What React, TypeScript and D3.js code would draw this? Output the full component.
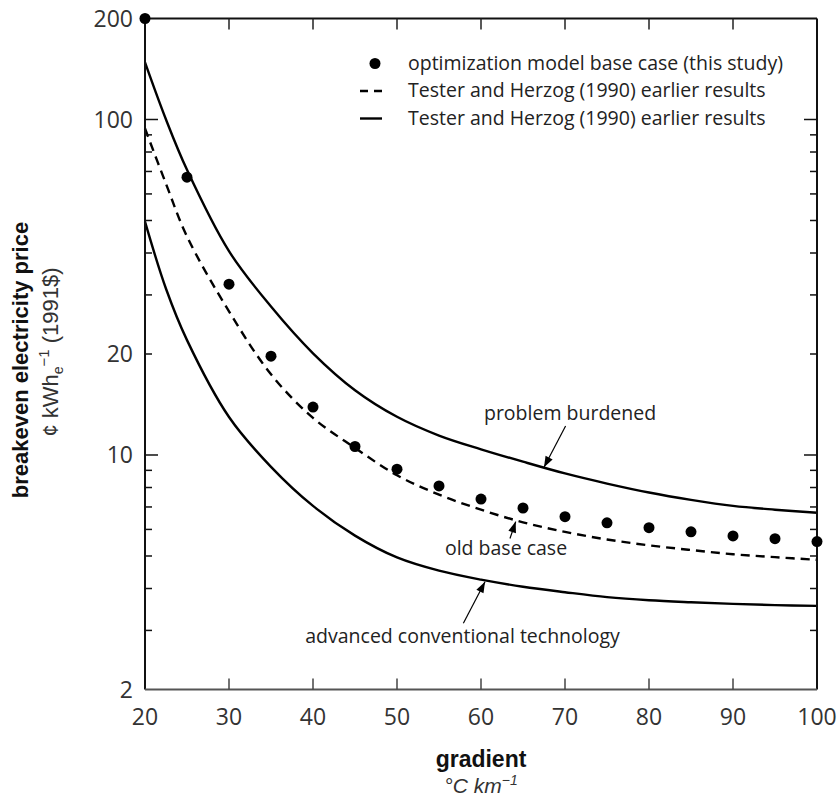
import React from "react";
import * as d3 from "d3";

// optimization model base case (this study), one value every 5 °C/km
const gradientPoints = [20, 25, 30, 35, 40, 45, 50, 55, 60, 65, 70, 75, 80, 85, 90, 95, 100];
const optimizationCase = [200, 67.3, 32.3, 19.7, 13.9, 10.6, 9.07, 8.09, 7.39, 6.95, 6.55, 6.28, 6.07, 5.9, 5.74, 5.63, 5.52];

// Tester and Herzog (1990) curves
const curveGradient = [20, 22.5, 25, 30, 35, 40, 45, 50, 55, 60, 65, 70, 75, 80, 85, 90, 95, 100];
const problemBurdened = [148, 100, 70.8, 40.5, 27.7, 20.1, 15.6, 13.0, 11.43, 10.4, 9.55, 8.81, 8.22, 7.73, 7.35, 7.05, 6.87, 6.73];
const oldBaseCase = [94, 64.3, 44.8, 26.8, 17.4, 12.9, 10.5, 8.7, 7.62, 6.87, 6.3, 5.9, 5.6, 5.38, 5.21, 5.06, 4.96, 4.87];
const advancedTech = [49.6, 31.3, 22.0, 12.98, 9.22, 7.05, 5.75, 4.95, 4.52, 4.25, 4.05, 3.9, 3.77, 3.69, 3.64, 3.6, 3.57, 3.55];

const xTicks = [20, 30, 40, 50, 60, 70, 80, 90, 100];
const yTickLabels = [2, 10, 20, 100, 200];
const yMajorTicks = [10, 100];
const yMinorTicks = [3, 4, 5, 6, 7, 8, 9, 20, 30, 40, 50, 60, 70, 80, 90];

const legendLabels = [
  "optimization model base case (this study)",
  "Tester and Herzog (1990) earlier results",
  "Tester and Herzog (1990) earlier results",
];

// annotation: label position and arrow (tail -> tip) in data units
const annotations = [
  { label: "problem burdened", tx: 70.6, ty: 12.7, from: [70.07, 12.2], to: [67.5, 9.19] },
  { label: "old base case", tx: 62.98, ty: 5.04, from: [63.45, 5.64], to: [64.13, 6.33] },
  { label: "advanced conventional technology", tx: 57.8, ty: 2.75, from: [57.9, 3.15], to: [60.48, 4.19] },
];

const W = 838;
const H = 796;
const left = 145;
const right = 817;
const top = 18.5;
const bottom = 689.5;
const sans = "'Open Sans', sans-serif";
const arial = "'Liberation Sans', Arial, sans-serif";

const App = () => {
  const x = d3.scaleLinear().domain([20, 100]).range([left, right]);
  const y = d3.scaleLog().domain([2, 200]).range([bottom, top]);

  const line = d3
    .line<number>()
    .x((d, i) => x(curveGradient[i]))
    .y((d) => y(d))
    .curve(d3.curveCatmullRom.alpha(0.5));

  const arrowHead = (x1: number, y1: number, x2: number, y2: number) => {
    const a = Math.atan2(y2 - y1, x2 - x1);
    const len = 11;
    const wid = 4;
    const bx = x2 - len * Math.cos(a);
    const by = y2 - len * Math.sin(a);
    const px = -Math.sin(a) * wid;
    const py = Math.cos(a) * wid;
    return `M${x2},${y2}L${bx + px},${by + py}L${bx - px},${by - py}Z`;
  };

  return (
    <svg
      width={W}
      height={H}
      style={{ position: "absolute", left: 0, top: 0, background: "#fff" }}
    >
      {/* curves */}
      <path d={line(problemBurdened) || ""} fill="none" stroke="#000" strokeWidth={2.4} />
      <path d={line(advancedTech) || ""} fill="none" stroke="#000" strokeWidth={2.4} />
      <path
        d={line(oldBaseCase) || ""}
        fill="none"
        stroke="#000"
        strokeWidth={2.4}
        strokeDasharray="9,6"
      />

      {/* frame */}
      <line x1={left} x2={right} y1={top} y2={top} stroke="#111" strokeWidth={2} />
      <line x1={right} x2={right} y1={top} y2={bottom} stroke="#111" strokeWidth={2} />
      <line x1={left} x2={left} y1={top} y2={bottom} stroke="#111" strokeWidth={2} />
      <line x1={left} x2={right} y1={bottom} y2={bottom} stroke="#555" strokeWidth={2} />

      {/* x ticks top and bottom */}
      {xTicks.slice(1, -1).map((t) => (
        <g key={"xt" + t}>
          <line x1={x(t)} x2={x(t)} y1={bottom} y2={bottom - 11} stroke="#444" strokeWidth={1.5} />
          <line x1={x(t)} x2={x(t)} y1={top} y2={top + 11} stroke="#222" strokeWidth={1.5} />
        </g>
      ))}
      {xTicks.map((t) => (
        <text
          key={"xl" + t}
          x={x(t)}
          y={725}
          textAnchor="middle"
          fontFamily={sans}
          fontSize={23}
          fill="#333"
        >
          {t}
        </text>
      ))}

      {/* y ticks left and right */}
      {yMajorTicks.map((t) => (
        <g key={"ym" + t}>
          <line x1={left} x2={left + 13} y1={y(t)} y2={y(t)} stroke="#111" strokeWidth={1.5} />
          <line x1={right} x2={right - 13} y1={y(t)} y2={y(t)} stroke="#111" strokeWidth={1.5} />
        </g>
      ))}
      {yMinorTicks.map((t) => (
        <g key={"yn" + t}>
          <line x1={left} x2={left + 7} y1={y(t)} y2={y(t)} stroke="#111" strokeWidth={1.5} />
          <line x1={right} x2={right - 7} y1={y(t)} y2={y(t)} stroke="#111" strokeWidth={1.5} />
        </g>
      ))}
      {yTickLabels.map((t) => (
        <text
          key={"yl" + t}
          x={left - 12}
          y={y(t)}
          dy="0.36em"
          textAnchor="end"
          fontFamily={sans}
          fontSize={23}
          fill="#333"
        >
          {t}
        </text>
      ))}

      {/* optimization model dots */}
      {optimizationCase.map((v, i) => (
        <circle key={"pt" + i} cx={x(gradientPoints[i])} cy={y(v)} r={5.5} fill="#000" />
      ))}

      {/* annotations */}
      {annotations.map((a) => {
        const x1 = x(a.from[0]);
        const y1 = y(a.from[1]);
        const x2 = x(a.to[0]);
        const y2 = y(a.to[1]);
        return (
          <g key={a.label}>
            <line x1={x1} y1={y1} x2={x2} y2={y2} stroke="#000" strokeWidth={1.2} />
            <path d={arrowHead(x1, y1, x2, y2)} fill="#000" />
            <text
              x={x(a.tx)}
              y={y(a.ty)}
              textAnchor="middle"
              fontFamily={sans}
              fontSize={19.5}
              fill="#222"
            >
              {a.label}
            </text>
          </g>
        );
      })}

      {/* legend */}
      <g fontFamily={sans} fontSize={19.5} fill="#222">
        <circle cx={375} cy={63.5} r={5.5} fill="#000" />
        <line x1={360} x2={382} y1={91} y2={91} stroke="#000" strokeWidth={2.4} strokeDasharray="8,6" />
        <line x1={360} x2={382} y1={118.5} y2={118.5} stroke="#000" strokeWidth={2.4} />
        {legendLabels.map((l, i) => (
          <text key={"lg" + i} x={408} y={69.5 + i * 27.5}>
            {l}
          </text>
        ))}
      </g>

      {/* axis titles */}
      <text
        x={(left + right) / 2}
        y={767}
        textAnchor="middle"
        fontFamily={arial}
        fontWeight="bold"
        fontSize={23}
        fill="#111"
      >
        gradient
      </text>
      <text
        x={(left + right) / 2}
        y={793}
        textAnchor="middle"
        fontFamily={arial}
        fontStyle="italic"
        fontSize={21}
        fill="#333"
      >
        °C km
        <tspan dy={-8} fontSize={14}>
          −1
        </tspan>
      </text>
      <text
        transform={`translate(28,360) rotate(-90)`}
        textAnchor="middle"
        fontFamily={arial}
        fontWeight="bold"
        fontSize={22}
        fill="#111"
      >
        breakeven electricity price
      </text>
      <text
        transform={`translate(58,352) rotate(-90)`}
        textAnchor="middle"
        fontFamily={arial}
        fontSize={22}
        fill="#333"
      >
        ¢ kWh
        <tspan dy={5} fontSize={14}>
          e
        </tspan>
        <tspan dy={-14} fontSize={15}>
          −1
        </tspan>
        <tspan dy={9}> (1991$)</tspan>
      </text>
    </svg>
  );
};

export default App;
